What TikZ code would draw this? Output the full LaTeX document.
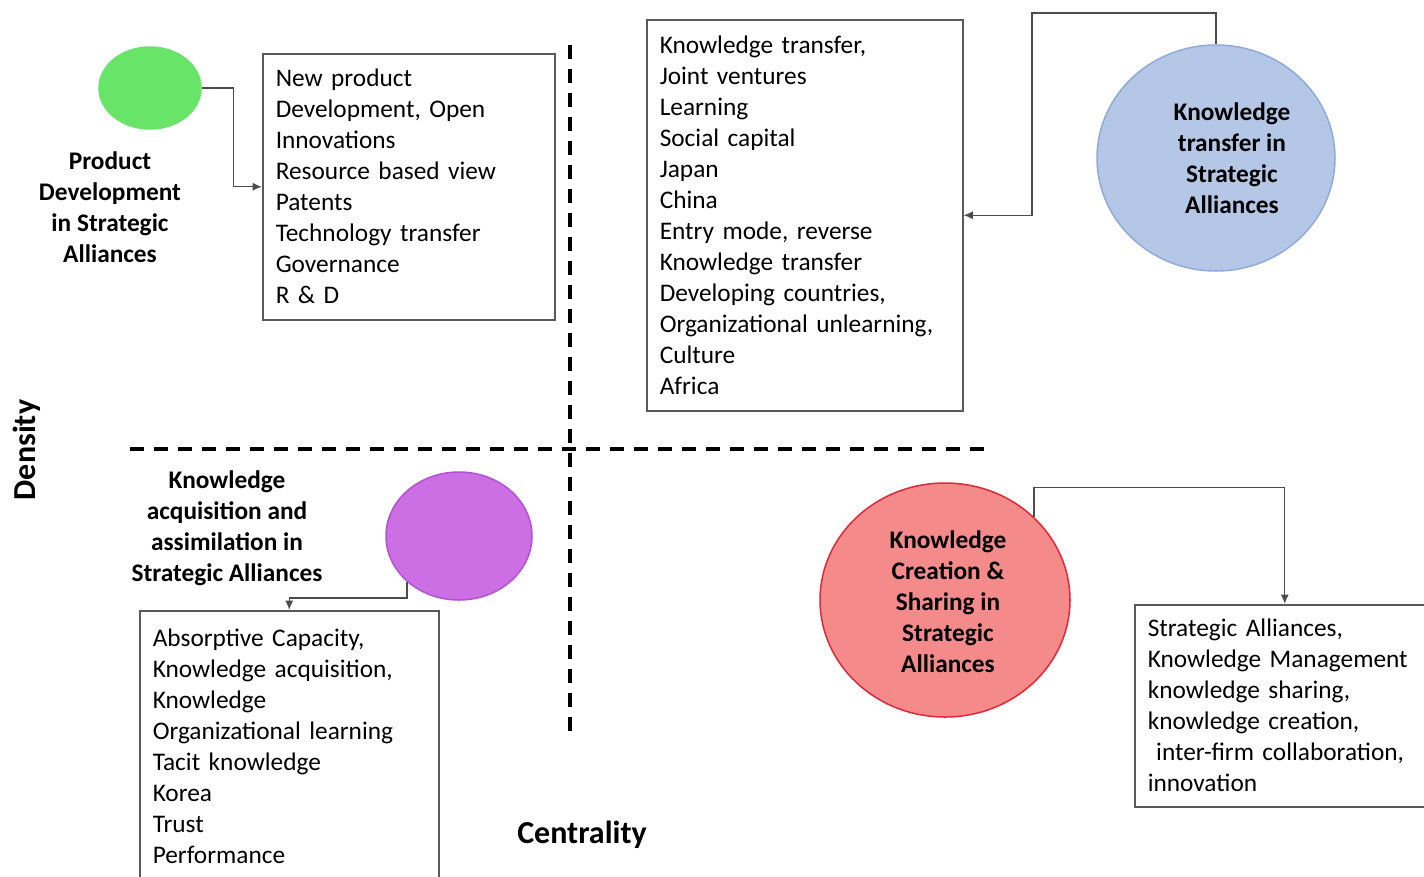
\documentclass[tikz,border=0pt]{standalone}
\usepackage{fontspec}
\setmainfont{Carlito}
\usetikzlibrary{shapes.geometric,arrows.meta}
\newlength\pxu
\setlength\pxu{0.75pt}
\definecolor{pdgreen}{RGB}{104,228,104}
\definecolor{ktblue}{RGB}{180,199,231}
\definecolor{ktblueline}{RGB}{143,170,220}
\definecolor{kapurple}{RGB}{204,110,228}
\definecolor{kapurpleline}{RGB}{180,80,210}
\definecolor{kcred}{RGB}{244,138,138}
\definecolor{kcredline}{RGB}{225,40,55}

\tikzstyle{topic} = [ellipse,inner sep=0pt,line width=1.5\pxu]
\tikzstyle{title} = [align=center,font=\bfseries\fontsize{19}{23.25}\selectfont]
\tikzstyle{keybox} = [draw=black!65,line width=1.5\pxu,anchor=north west,align=left,inner xsep=13\pxu,inner ysep=0pt,font=\fontsize{19}{23.25}\selectfont]
\tikzstyle{link} = [draw=black!70,line width=1.1pt,-{Latex[length=7pt,width=6pt]}]
\tikzstyle{axisline} = [line width=4\pxu,dash pattern=on 14\pxu off 10\pxu]
\tikzstyle{axislabel} = [font=\bfseries\fontsize{24}{29}\selectfont]

\begin{document}
\begin{tikzpicture}[x=\pxu,y=-\pxu]
	\useasboundingbox (0,0) rectangle (1424,876);
	\draw[axisline] (570,45) -- (570,740);
	\draw[axisline] (130,449) -- (985,449);
	\node[axislabel] (xl) at (582,835) {Centrality};
	\node[axislabel,rotate=90] (yl) at (27,450) {Density};
	\node[topic,fill=pdgreen,draw=pdgreen,minimum width=102\pxu,minimum height=82\pxu] (n1) at (150,88) {};
	\node[topic,fill=ktblue,draw=ktblueline,minimum width=238\pxu,minimum height=226\pxu] (n2) at (1216,158) {};
	\node[topic,fill=kapurple,draw=kapurpleline,minimum width=146\pxu,minimum height=128\pxu] (n3) at (459,536) {};
	\node[topic,fill=kcred,draw=kcredline,minimum width=250\pxu,minimum height=234\pxu] (n4) at (945,600) {};
	\node[title] (t1) at (110,207) {Product\\Development\\in Strategic\\Alliances};
	\node[title] (t2) at (1232,158) {Knowledge\\transfer in\\Strategic\\Alliances};
	\node[title] (t3) at (227,528) {Knowledge\\acquisition and\\assimilation in\\Strategic Alliances};
	\node[title] (t4) at (948,602) {Knowledge\\Creation \&\\Sharing in\\Strategic\\Alliances};
	\node[keybox,text width=266\pxu,minimum height=266\pxu] (b1) at (262,53) {New product\\Development, Open\\Innovations\\Resource based view\\Patents\\Technology transfer\\Governance\\R \& D};
	\node[keybox,text width=290\pxu,minimum height=391\pxu] (b2) at (646,19) {Knowledge transfer,\\Joint ventures\\Learning\\Social capital\\Japan\\China\\Entry mode, reverse\\Knowledge transfer\\Developing countries,\\Organizational unlearning,\\Culture\\Africa};
	\node[keybox,text width=273\pxu,minimum height=272\pxu] (b3) at (139,610) {Absorptive Capacity,\\Knowledge acquisition,\\Knowledge\\Organizational learning\\Tacit knowledge\\Korea\\Trust\\Performance};
	\node[keybox,text width=274\pxu,minimum height=202\pxu] (b4) at (1134,604) {Strategic Alliances,\\Knowledge Management\\knowledge sharing,\\knowledge creation,\\\ inter-firm collaboration,\\innovation};
	\coordinate (c2) at (1032,13);
	\draw[link] (n1.east) -- ++(32,0) |- (b1.west);
	\draw[link] (n2.north) |- (c2) |- (b2.east);
	\draw[link] (n3.south west) -- ++(0,16) -| (b3.north);
	\draw[link] (n4.north east) -- ++(0,-29) -| (b4.north);
\end{tikzpicture}
\end{document}
